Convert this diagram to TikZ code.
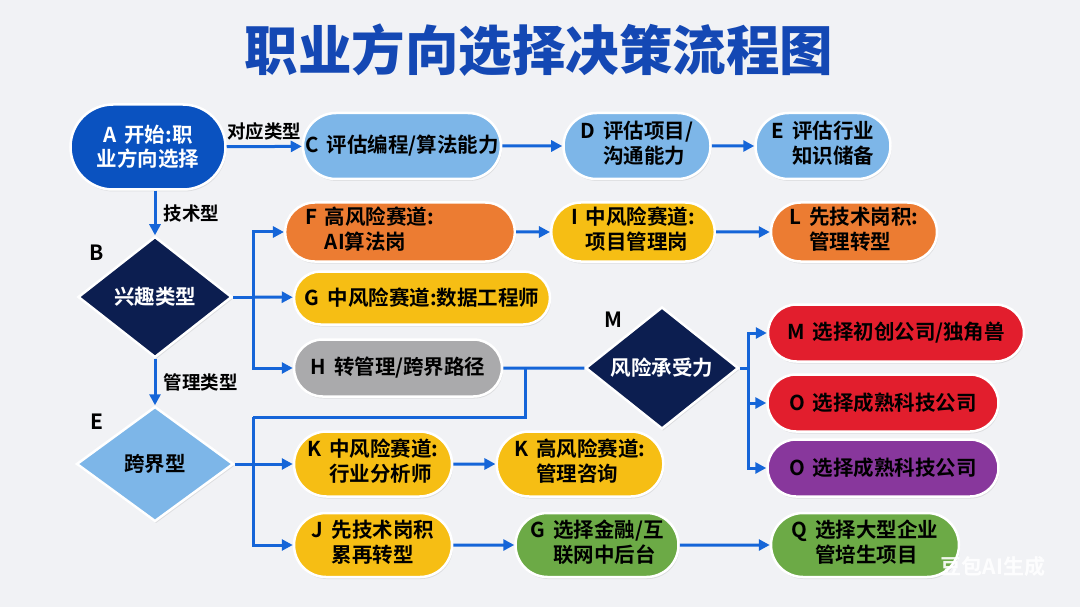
\documentclass[tikz,border=0pt]{standalone}
\usepackage{fontspec}
\setmainfont{Noto Sans CJK SC}[BoldFont={Noto Sans CJK SC Bold}]
\newfontfamily\titlefont{Noto Sans CJK SC Black}
\usetikzlibrary{shapes.geometric,shapes.misc,arrows.meta,shadows}
\definecolor{bgc}{RGB}{241,242,245}
\definecolor{titleblue}{RGB}{20,72,180}
\definecolor{ablue}{RGB}{10,82,192}
\definecolor{lblue}{RGB}{125,182,232}
\definecolor{navy}{RGB}{12,30,80}
\definecolor{orng}{RGB}{236,124,50}
\definecolor{yell}{RGB}{246,190,20}
\definecolor{gry}{RGB}{170,170,172}
\definecolor{grn}{RGB}{108,170,70}
\definecolor{rd}{RGB}{226,30,45}
\definecolor{purp}{RGB}{136,55,156}
\definecolor{arrblue}{RGB}{21,101,216}
\newcommand\mynodefont{\fontsize{20.5}{24.5}\selectfont\bfseries}
\newcommand\mytwo[3]{\begin{tabular}{@{}l@{\hspace{8pt}}l@{}}#1&#2\\&#3\end{tabular}}
\newcommand\myone[2]{#1\hspace{8pt}#2}
\tikzset{
  pill/.style={rounded rectangle, draw=white, line width=2.5pt, inner xsep=6pt, inner ysep=1pt,
    font=\mynodefont, text=black, drop shadow={opacity=0.18, shadow xshift=1pt, shadow yshift=-2pt}},
  dia/.style={diamond, draw=white, line width=2.5pt, inner sep=0pt,
    font=\mynodefont, drop shadow={opacity=0.18, shadow xshift=1pt, shadow yshift=-2pt}},
  lnk/.style={draw=arrblue, line width=3pt},
  arr/.style={lnk, -{Triangle[length=11pt,width=11pt]}},
  lbl/.style={font=\fontsize{18.5}{22}\selectfont\bfseries, text=black},
  tag/.style={font=\fontsize{21}{24}\selectfont\bfseries, text=black}
}
\begin{document}
\begin{tikzpicture}[x=1pt,y=-1pt]
\useasboundingbox (0,0) rectangle (1080,607);
\fill[bgc] (0,0) rectangle (1080,607);
\node[font=\titlefont\fontsize{53.5}{62}\selectfont, text=titleblue] (title) at (539,50) {职业方向选择决策流程图};

% top row
\node[pill, fill=ablue, text=white, minimum width=167pt, minimum height=85pt, align=center] (A) at (148,147) {A\hspace{8pt}开始:职\\业方向选择};
\node[pill, fill=lblue, minimum width=210pt, minimum height=66pt] (C) at (402,146) {\myone{C}{评估编程/算法能力}};
\node[pill, fill=lblue, minimum width=145pt, minimum height=66pt] (D) at (637,146) {\mytwo{D}{评估项目/}{沟通能力}};
\node[pill, fill=lblue, minimum width=147pt, minimum height=66pt] (Ev) at (823,146) {\mytwo{E}{评估行业}{知识储备}};

% diamonds
\node[dia, fill=navy, text=white, minimum width=154pt, minimum height=121pt] (B) at (155,297) {兴趣类型};
\node[dia, fill=lblue, text=black, minimum width=157pt, minimum height=115pt] (Ed) at (155,464) {跨界型};
\node[dia, fill=navy, text=white, minimum width=153pt, minimum height=120pt] (M) at (662,368) {风险承受力};
\node[tag] (tB) at (97,253) {B};
\node[tag] (tE) at (97,422) {E};
\node[tag] (tM) at (613,320) {M};

% second block
\node[pill, fill=orng, minimum width=224pt, minimum height=59pt] (F) at (400,232) {\makebox[190pt][l]{\mytwo{F}{高风险赛道:}{AI算法岗}}};
\node[pill, fill=yell, minimum width=157pt, minimum height=59pt] (I) at (633,232) {\mytwo{I}{中风险赛道:}{项目管理岗}};
\node[pill, fill=orng, minimum width=178pt, minimum height=59pt] (L) at (854,232) {\mytwo{L}{先技术岗积:}{管理转型}};
\node[pill, fill=yell, minimum width=268pt, minimum height=53pt] (G) at (422,298) {\myone{G}{中风险赛道:数据工程师}};
\node[pill, fill=gry, minimum width=220pt, minimum height=57pt] (H) at (398,368) {\myone{H}{转管理/跨界路径}};

% lower block
\node[pill, fill=yell, minimum width=170pt, minimum height=65pt] (K1) at (373,464) {\mytwo{K}{中风险赛道:}{行业分析师}};
\node[pill, fill=yell, minimum width=164pt, minimum height=65pt] (K2) at (580,464) {\mytwo{K}{高风险赛道:}{管理咨询}};
\node[pill, fill=yell, minimum width=170pt, minimum height=64pt] (J) at (373,545) {\mytwo{J}{先技术岗积}{累再转型}};
\node[pill, fill=grn, minimum width=175pt, minimum height=64pt] (G2) at (597,545) {\mytwo{G}{选择金融/互}{联网中后台}};
\node[pill, fill=grn, minimum width=200pt, minimum height=64pt] (Q) at (865,545) {\mytwo{Q}{选择大型企业}{管培生项目}};

% risk outcomes
\node[pill, fill=rd, minimum width=268pt, minimum height=57pt] (Mr) at (896,333) {\myone{M}{选择初创公司/独角兽}};
\node[pill, fill=rd, minimum width=243pt, minimum height=57pt] (Or) at (883,403) {\myone{O}{选择成熟科技公司}};
\node[pill, fill=purp, minimum width=243pt, minimum height=57pt] (Op) at (883,468) {\myone{O}{选择成熟科技公司}};

% junction coordinates
\coordinate (bj) at (253,297);
\coordinate (hm) at (525,368);
\coordinate (ej) at (253,417);
\coordinate (ek) at (253,464);
\coordinate (mj) at (748,368);

% connectors
\draw[arr] (A) -- node[lbl, above=1pt] {对应类型} (C);
\draw[arr] (C) -- (D);
\draw[arr] (D) -- (Ev);
\draw[arr] (B.north |- A.south) -- node[lbl, right=4pt] {技术型} (B.north);
\draw[lnk] (B) -- (bj);
\draw[arr] (bj) |- (F);
\draw[arr] (bj) -- (G);
\draw[arr] (bj) |- (H);
\draw[arr] (F) -- (I);
\draw[arr] (I) -- (L);
\draw[arr] (B.south) -- node[lbl, right=4pt] {管理类型} (Ed.north);
\draw[lnk] (H) -- (M);
\draw[lnk] (hm) |- (ej);
\draw[arr] (ej) |- (J);
\draw[lnk] (Ed) -- (ek);
\draw[arr] (ek) -- (K1);
\draw[arr] (K1) -- (K2);
\draw[arr] (J) -- (G2);
\draw[arr] (G2) -- (Q);
\draw[lnk] (M) -- (mj);
\draw[arr] (mj) |- (Mr);
\draw[arr] (mj) |- (Or);
\draw[arr] (mj) |- (Op);

\node[font=\fontsize{21}{24}\selectfont\bfseries, text=white, opacity=0.9] (wm) at (993,567) {豆包AI生成};
\end{tikzpicture}
\end{document}
